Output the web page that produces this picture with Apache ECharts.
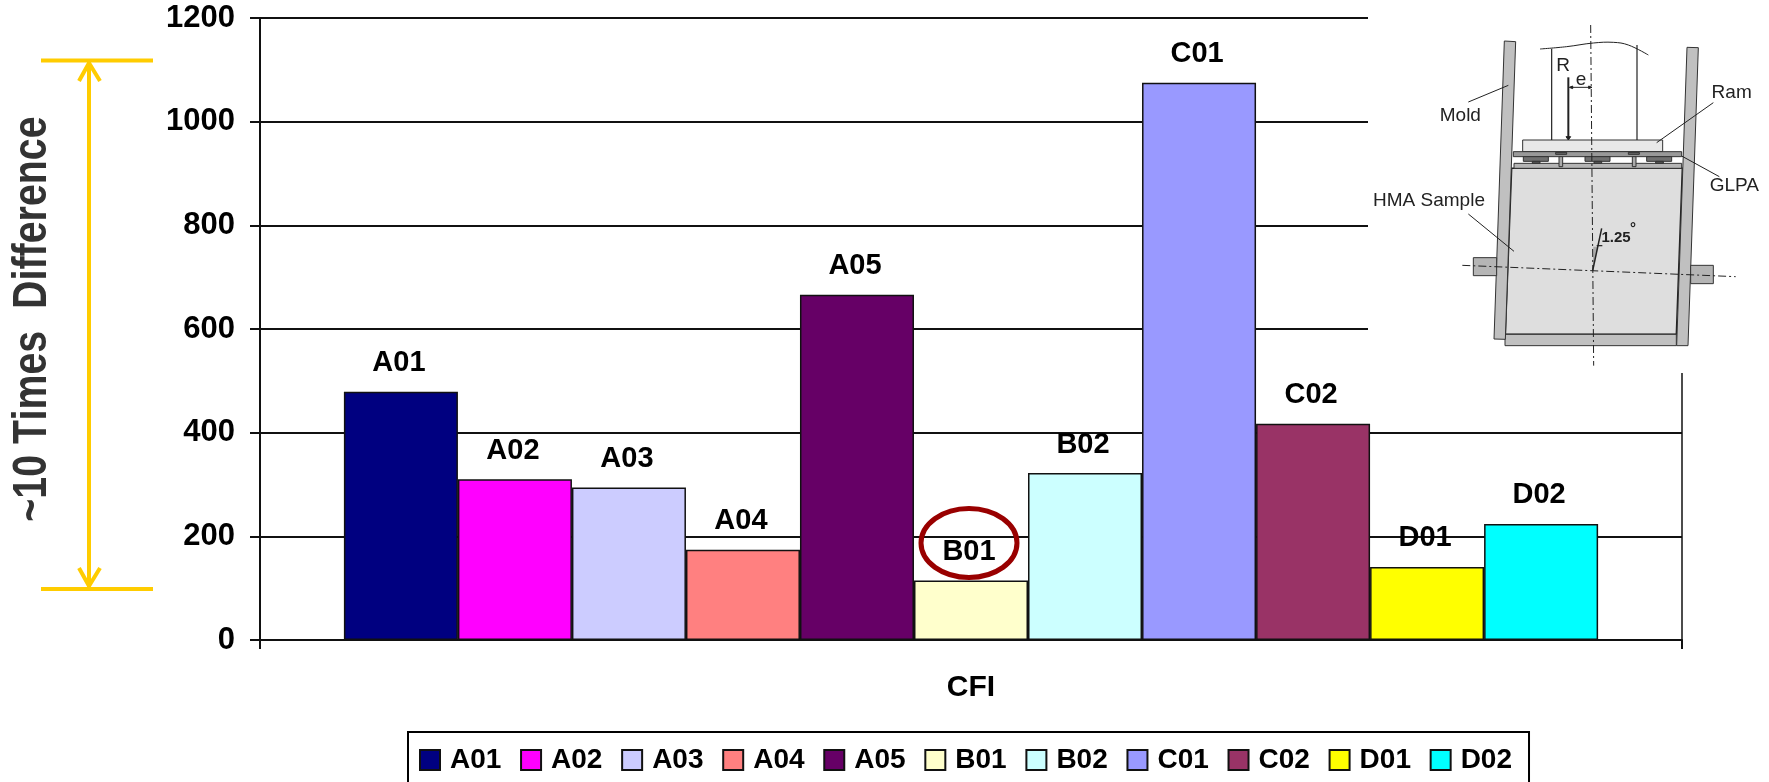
<!DOCTYPE html>
<html><head><meta charset="utf-8">
<style>html,body{margin:0;padding:0;background:#fff}#c{width:1769px;height:782px}</style>
<script src="https://cdn.jsdelivr.net/npm/echarts@6/dist/echarts.min.js"></script>
</head><body><div id="c"></div>
<script>
const seriesNames = ['A01','A02','A03','A04','A05','B01','B02','C01','C02','D01','D02'];
const cfiValues = [479,310,294,174,666,115,322,1075,417,141,224];
const barColors = ['#000080','#FF00FF','#CCCCFF','#FF8080','#660066','#FFFFCC','#CCFFFF','#9999FF','#993366','#FFFF00','#00FFFF'];
const categories = ['CFI'];
const FONT = 'Liberation Sans, Arial, sans-serif';

const chart = echarts.init(document.getElementById('c'), null, {renderer:'canvas'});

const ix = x => 1380 + x/3, iy = y => y/3;
const Z = 50;
const poly = (pts, fill, stroke, lw) => ({type:'polygon', z:Z, shape:{points:pts.map(p=>[ix(p[0]),iy(p[1])])},
  style:{fill:fill, stroke:stroke||'#333', lineWidth:lw==null?1:lw}});
const rect = (x0,y0,x1,y1,fill,stroke) => poly([[x0,y0],[x1,y0],[x1,y1],[x0,y1]],fill,stroke);
const line = (x0,y0,x1,y1,lw,dash,color) => ({type:'line', z:Z+1, shape:{x1:ix(x0),y1:iy(y0),x2:ix(x1),y2:iy(y1)},
  style:{stroke:color||'#222', lineWidth:lw||1, lineDash:dash||null}});
const txt = (s,x,y,size,weight) => ({type:'text', z:Z+2, x:ix(x), y:iy(y),
  style:{text:s, fill:'#222', font:(weight||'normal')+' '+size+'px '+FONT, align:'center', verticalAlign:'middle'}});
const dashDot = [8,3,2,3];

const inset = [
  {type:'rect', z:Z-1, shape:{x:1368,y:0,width:401,height:373}, style:{fill:'#fff'}},
  poly([[395,505],[907,505],[889,1003],[376,1003]],'#dedede','#222',1.5),
  rect(375,1003,889,1037,'#c0c0c0'),
  poly([[373,123],[407,125],[376,1018],[342,1017]],'#c0c0c0'),
  poly([[921,142],[955,143],[924,1037],[890,1037]],'#c0c0c0'),
  rect(428,420,848,455,'#e8e8e8'),
  rect(400,455,905,470,'#999999'),
  rect(402,490,905,505,'#b5b5b5'),
  rect(430,470,505,484,'#707070'), rect(457,484,480,490,'#555555'),
  rect(615,470,690,484,'#707070'), rect(642,484,665,490,'#555555'),
  rect(800,470,875,484,'#707070'), rect(827,484,850,490,'#555555'),
  rect(537,470,548,500,'#aaaaaa'), rect(757,470,768,500,'#aaaaaa'),
  rect(527,457,560,463,'#666666'), rect(745,457,778,463,'#666666'),
  rect(280,773,350,827,'#b5b5b5'),
  rect(932,796,1000,851,'#b5b5b5'),
  line(515,146,515,420,1.2), line(771,135,771,420,1.2),
  {type:'polyline', z:Z+1, shape:{points:[[480,147],[560,140],[640,129],[700,127],[745,135],[805,165]].map(p=>[ix(p[0]),iy(p[1])]), smooth:0.4},
    style:{stroke:'#222', lineWidth:1, fill:'none'}},
  line(632,75,641,1097,1,dashDot),
  line(247,796,1067,830,1,dashDot),
  line(565,232,565,412,2),
  poly([[558,410],[572,410],[565,420]],'#222','#222'),
  line(574,262,628,262,1),
  poly([[568,262],[578,258],[578,266]],'#222','#222'),
  poly([[636,262],[626,258],[626,266]],'#222','#222'),
  line(638,812,665,685,1.5),
  poly([[638,812],[640,740],[654,740]],'#aaaaaa','#aaaaaa',0),
  line(650,737,667,737,1.2),
  line(265,306,385,256,1), line(830,428,1000,308,1), line(905,468,1018,530,1), line(265,642,402,754,1),
  txt('R',549,197,19), txt('e',603,240,19),
  txt('Ram',1055,278,19), txt('Mold',241,346,19), txt('GLPA',1063,558,19), txt('HMA Sample',147,603,19),
  txt('1.25',708,714,15,'bold'), txt('°',759,688,15,'bold'),
  {type:'line', z:Z+1, shape:{x1:1682,y1:373,x2:1682,y2:640}, style:{stroke:'#111',lineWidth:1.5}}
];

const gold = '#FFCC00';
const goldLine = (x1,y1,x2,y2) => ({type:'line', z:60, shape:{x1,y1,x2,y2}, style:{stroke:gold, lineWidth:4}});
const annotations = [
  goldLine(41,60.5,153,60.5), goldLine(41,589,153,589), goldLine(89,62,89,587),
  {type:'polyline', z:60, shape:{points:[[79,81],[89,63],[100,81]]}, style:{stroke:gold,lineWidth:4,fill:'none'}},
  {type:'polyline', z:60, shape:{points:[[79,568],[89,586],[100,568]]}, style:{stroke:gold,lineWidth:4,fill:'none'}},
  {type:'text', z:60, x:33, y:319, rotation:Math.PI/2, scaleX:0.875, scaleY:1.08,
    style:{text:'~10 Times  Difference', fill:'#333333', font:'bold 45px '+FONT, align:'center', verticalAlign:'middle'}},
  {type:'ellipse', z:60, shape:{cx:969,cy:543,rx:48,ry:34.5}, style:{fill:'none', stroke:'#990000', lineWidth:5}}
];

chart.setOption({
  animation:false,
  backgroundColor:'#fff',
  grid:{left:260, right:87, top:18, bottom:142, containLabel:false},
  legend:{
    left:408, top:732, orient:'horizontal', padding:[14,17,12,11], itemWidth:20, itemHeight:20, itemGap:18.7,
    borderColor:'#000', borderWidth:2, backgroundColor:'#fff',
    textStyle:{fontFamily:FONT, fontWeight:'bold', fontSize:28, color:'#000', padding:[0,0,0,5]},
    data:seriesNames, icon:'rect'
  },
  xAxis:{type:'category', data:categories,
    axisLine:{lineStyle:{color:'#111',width:2}},
    axisTick:{show:true, length:9, lineStyle:{color:'#111',width:2}},
    axisLabel:{margin:33, fontFamily:FONT, fontWeight:'bold', fontSize:30, color:'#000'}},
  yAxis:{type:'value', min:0, max:1200, interval:200,
    axisLine:{show:true, onZero:false, lineStyle:{color:'#111',width:2}},
    axisTick:{show:true, length:10, lineStyle:{color:'#111',width:2}},
    splitLine:{show:true, lineStyle:{color:'#111',width:2}},
    axisLabel:{margin:25, formatter:v=>String(v), padding:[5,0,0,0], fontFamily:FONT, fontWeight:'bold', fontSize:31, color:'#000'}},
  series:seriesNames.map((n,i)=>({
    name:n, type:'bar', barGap:0, barCategoryGap:'11.8%',
    data:[cfiValues[i]],
    itemStyle:{color:barColors[i], borderColor:'#111', borderWidth:1.5},
    label:{show:true, position:'top', distance:14, offset:[-2,0], formatter:'{a}', fontFamily:FONT, fontWeight:'bold', fontSize:29, color:'#000'},
    z:3
  })),
  graphic:{elements:[...inset, ...annotations]}
});
</script></body></html>
